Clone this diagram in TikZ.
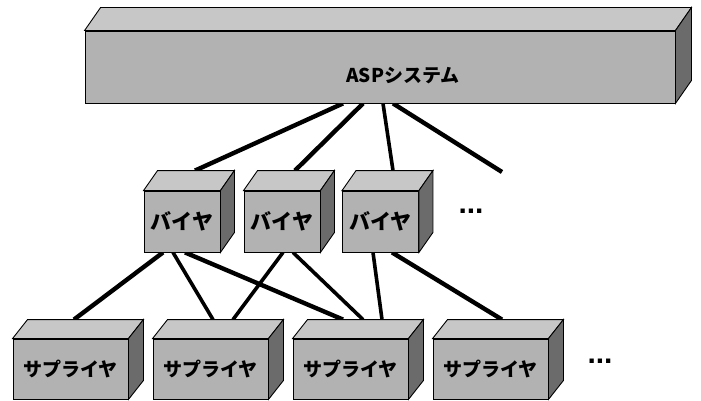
\documentclass[tikz,border=0pt]{standalone}
\usepackage{fontspec}
\newfontfamily\jp{Noto Sans CJK JP}
\newfontfamily\dotfont{Liberation Sans}
\usetikzlibrary{calc,backgrounds}
\tikzset{
  face/.style={draw=black, line width=0.9pt, fill=black!30, inner sep=0pt},
  topface/.style={draw=black, line width=0.9pt, fill=black!22},
  sideface/.style={draw=black, line width=0.9pt, fill=black!58},
  buyer/.style={face, minimum width=76pt, minimum height=61pt, font=\jp\bfseries\fontsize{21}{21}\selectfont},
  supplier/.style={face, minimum width=115pt, minimum height=60pt, font=\jp\bfseries\fontsize{19}{19}\selectfont},
  link/.style={line width=4.4pt},
  thinlink/.style={line width=3.6pt},
  dots/.style={font=\dotfont\bfseries\fontsize{30}{30}\selectfont, inner sep=0pt}
}
\newcommand\drawcube[3]{%
  \draw[topface] (#1.north west) -- ++(#2,-#3) -- ($(#1.north east)+(#2,-#3)$) -- (#1.north east) -- cycle;
  \draw[sideface] (#1.north east) -- ++(#2,-#3) -- ($(#1.south east)+(#2,-#3)$) -- (#1.south east) -- cycle;
}
\begin{document}
\begin{tikzpicture}[x=1pt,y=-1pt]
\useasboundingbox (0,0) rectangle (701,401);
% top system box
\node[face, minimum width=590pt, minimum height=72pt] (asp) at (380,67) {};
\drawcube{asp}{16}{23}
\node[font=\jp\bfseries\fontsize{19}{19}\selectfont, inner sep=0pt] (asplabel) at (403,76) {ASPシステム};
% buyers
\node[buyer] (b1) at (182,221.5) {バイヤ};
\node[buyer] (b2) at (282,221.5) {バイヤ};
\node[buyer] (b3) at (380.5,221.5) {バイヤ};
\drawcube{b1}{14}{20}
\drawcube{b2}{14}{20}
\drawcube{b3}{14}{20}
\node[dots] (bdots) at (471,211) {...};
% suppliers
\node[supplier] (s1) at (70.5,369) {サプライヤ};
\node[supplier] (s2) at (210.5,369) {サプライヤ};
\node[supplier] (s3) at (350.5,369) {サプライヤ};
\node[supplier] (s4) at (490.5,369) {サプライヤ};
\drawcube{s1}{15}{19}
\drawcube{s2}{15}{19}
\drawcube{s3}{15}{19}
\drawcube{s4}{15}{19}
\node[dots] (sdots) at (600,361) {...};
\coordinate (free) at (502,172);
% connectors
\begin{scope}[on background layer]
\draw[link] ($(asp.south)+(-37,0)$) -- ($(b1.north)+(13,-20)$);
\draw[link] ($(asp.south)+(-17,0)$) -- ($(b2.north)+(13,-20)$);
\draw[thinlink] ($(asp.south)+(3,0)$) -- ($(b3.north)+(12.5,-20)$);
\draw[link] ($(asp.south)+(13,0)$) -- (free);
\draw[link] ($(b1.south)+(-19,0)$) -- ($(s1.north)+(3.5,-19)$);
\draw[thinlink] ($(b1.south)+(-9,0)$) -- ($(s2.north)+(2.5,-19)$);
\draw[link] ($(b1.south)+(3,0)$) -- ($(s3.north)+(-7.5,-19)$);
\draw[thinlink] ($(b2.south)+(1,0)$) -- ($(s2.north)+(22.5,-19)$);
\draw[thinlink] ($(b2.south)+(11,0)$) -- ($(s3.north)+(12.5,-19)$);
\draw[thinlink] ($(b3.south)+(-7.5,0)$) -- ($(s3.north)+(31.5,-19)$);
\draw[link] ($(b3.south)+(11.5,0)$) -- ($(s4.north)+(11.5,-19)$);
\end{scope}
\end{tikzpicture}
\end{document}
